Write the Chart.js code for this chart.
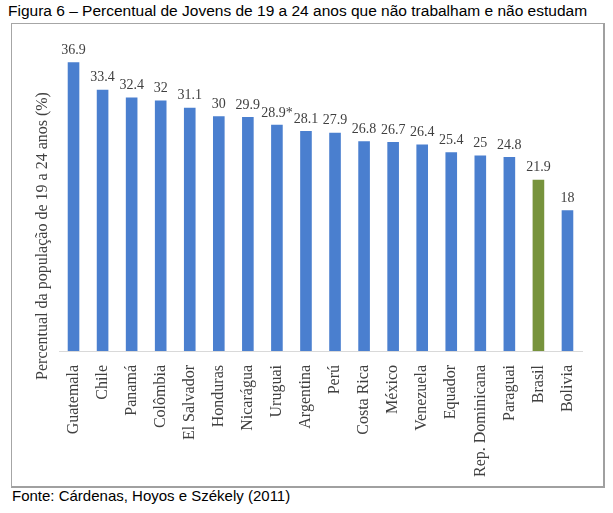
<!DOCTYPE html>
<html>
<head>
<meta charset="utf-8">
<script src="https://cdn.jsdelivr.net/npm/chart.js@4"></script>
<style>
  body { margin: 0; background: #fff; width: 613px; height: 513px; position: relative; overflow: hidden; }
  #titulo { position: absolute; left: 8px; top: 2px; font: 15.5px "Liberation Sans", Arial, sans-serif; color: #000; white-space: nowrap; }
  #quadro { position: absolute; left: 11px; top: 23px; width: 591px; height: 462px; border: 1px solid #a6a6a6; border-right: 2px solid #a0a0a0; border-bottom: 2px solid #a0a0a0; }
  #fonte { position: absolute; left: 12px; top: 487px; font: 15px "Liberation Sans", Arial, sans-serif; color: #000; white-space: nowrap; }
</style>
</head>
<body>
<div id="titulo">Figura 6 – Percentual de Jovens de 19 a 24 anos que não trabalham e não estudam</div>
<div id="quadro"><canvas id="grafico" width="591" height="462"></canvas></div>
<div id="fonte">Fonte: Cárdenas, Hoyos e Székely (2011)</div>
<script>
// dados do gráfico
const paises = ['Guatemala', 'Chile', 'Panamá', 'Colômbia', 'El Salvador', 'Honduras', 'Nicarágua', 'Uruguai',
  'Argentina', 'Perú', 'Costa Rica', 'México', 'Venezuela', 'Equador', 'Rep. Dominicana', 'Paraguai', 'Brasil', 'Bolivia'];
const percentuais = [36.9, 33.4, 32.4, 32, 31.1, 30, 29.9, 28.9, 28.1, 27.9, 26.8, 26.7, 26.4, 25.4, 25, 24.8, 21.9, 18];
const notas = ['', '', '', '', '', '', '', '*', '', '', '', '', '', '', '', '', '', ''];
const destaque = 'Brasil';
const tituloY = 'Percentual da população de 19 a 24 anos (%)';

const azul = '#4a7fcf';
const verde = '#77933c';
const cores = paises.map(p => p === destaque ? verde : azul);
const serifa = '"Liberation Serif", "Times New Roman", serif';

// rótulos de valor em cima das barras + título do eixo y (um pouco abaixo do centro, como no original)
const rotulosValor = {
  id: 'rotulosValor',
  afterDatasetsDraw(chart) {
    const ctx = chart.ctx;
    const meta = chart.getDatasetMeta(0);
    ctx.save();
    ctx.font = '14px ' + serifa;
    ctx.fillStyle = '#404040';
    ctx.textAlign = 'center';
    ctx.textBaseline = 'bottom';
    meta.data.forEach((barra, i) => {
      ctx.fillText(percentuais[i] + notas[i], barra.x, barra.y - 5);
    });

    ctx.font = '16px ' + serifa;
    ctx.textBaseline = 'middle';
    ctx.translate(chart.chartArea.left - 16, chart.height / 2 - 19);
    ctx.rotate(-Math.PI / 2);
    ctx.fillText(tituloY, 0, 0);
    ctx.restore();
  }
};

new Chart(document.getElementById('grafico'), {
  type: 'bar',
  data: {
    labels: paises,
    datasets: [{
      data: percentuais,
      backgroundColor: cores,
      categoryPercentage: 1,
      barPercentage: 0.4
    }]
  },
  options: {
    responsive: false,
    animation: false,
    layout: { padding: { top: 14, right: 21, bottom: 0, left: 0 } },
    plugins: {
      legend: { display: false },
      tooltip: { enabled: false }
    },
    scales: {
      x: {
        grid: { display: false },
        border: { display: true, color: '#d9d9d9', width: 1 },
        ticks: {
          minRotation: 90,
          maxRotation: 90,
          padding: 6,
          color: '#404040',
          font: { family: serifa, size: 16 }
        },
        afterFit(escala) { escala.height = 135; }
      },
      y: {
        min: 0,
        max: 40,
        grid: { display: false },
        border: { display: false },
        ticks: { display: false },
        afterFit(escala) { escala.width = 47; }
      }
    }
  },
  plugins: [rotulosValor]
});
</script>
</body>
</html>
